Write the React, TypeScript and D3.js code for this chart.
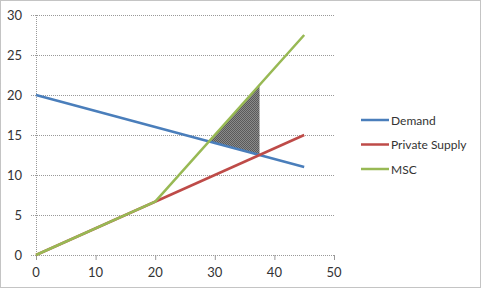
import React from "react";
import * as d3 from "d3";

const xTicks = [0, 10, 20, 30, 40, 50];
const yTicks = [0, 5, 10, 15, 20, 25, 30];
const demandX = [0, 45];
const demandY = [20, 11];
const supplyX = [0, 45];
const supplyY = [0, 15];
const mscX = [0, 20, 45];
const mscY = [0, 6.67, 27.5];
const shadeX = [29.03, 37.5, 37.5];
const shadeY = [14.19, 21.25, 12.5];
const seriesNames = ["Demand", "Private Supply", "MSC"];
const seriesColors = ["#4a7ebb", "#be4b48", "#98b954"];

const W = 482;
const H = 289;

export default function App() {
  const x = d3.scaleLinear().domain([0, 50]).range([36, 334]);
  const y = d3.scaleLinear().domain([0, 30]).range([255, 15]);
  const line = d3
    .line<[number, number]>()
    .x((d) => x(d[0]))
    .y((d) => y(d[1]));
  const zip = (a: number[], b: number[]) => a.map((v, i) => [v, b[i]] as [number, number]);
  const series = [zip(demandX, demandY), zip(supplyX, supplyY), zip(mscX, mscY)];
  const shade = zip(shadeX, shadeY);
  const font = "Lato, 'Open Sans', sans-serif";
  return (
    <svg
      width={W}
      height={H}
      style={{ position: "absolute", left: 0, top: 0, background: "#fff" }}
    >
      <defs>
        <pattern id="chk" width={2} height={2} patternUnits="userSpaceOnUse">
          <rect width={2} height={2} fill="#8a8a8a" />
          <rect width={1} height={1} fill="#5a5a5a" />
          <rect x={1} y={1} width={1} height={1} fill="#5a5a5a" />
        </pattern>
      </defs>
      <rect x={0.5} y={0.5} width={W - 2} height={H - 2} fill="#fff" stroke="#888" strokeDasharray="1,1" />
      {yTicks.map((t) => (
        <g key={"y" + t}>
          <line x1={x(0) - 5} x2={x(50)} y1={y(t) + 0.5} y2={y(t) + 0.5} stroke="#999" strokeDasharray="1,1" />
          <text x={22} y={y(t) + 5} textAnchor="end" fontFamily={font} fontSize={13} fill="#333">
            {t}
          </text>
        </g>
      ))}
      <line x1={x(0) + 0.5} x2={x(0) + 0.5} y1={y(30)} y2={y(0) + 5} stroke="#999" strokeDasharray="1,1" />
      {xTicks.map((t) => (
        <g key={"x" + t}>
          <line x1={x(t) + 0.5} x2={x(t) + 0.5} y1={y(0)} y2={y(0) + 5} stroke="#999" />
          <text x={x(t)} y={277} textAnchor="middle" fontFamily={font} fontSize={13} fill="#333">
            {t}
          </text>
        </g>
      ))}
      <path d={line(shade) + "Z"} fill="url(#chk)" />
      {series.map((s, i) => (
        <path key={i} d={line(s) || ""} fill="none" stroke={seriesColors[i]} strokeWidth={2.5} strokeLinejoin="round" />
      ))}
      {seriesNames.map((n, i) => {
        const ly = 120 + i * 24.5;
        return (
          <g key={n}>
            <line x1={361} x2={389} y1={ly} y2={ly} stroke={seriesColors[i]} strokeWidth={2.5} />
            <text x={391} y={ly + 4.5} fontFamily={font} fontSize={12} fill="#333">
              {n}
            </text>
          </g>
        );
      })}
    </svg>
  );
}
